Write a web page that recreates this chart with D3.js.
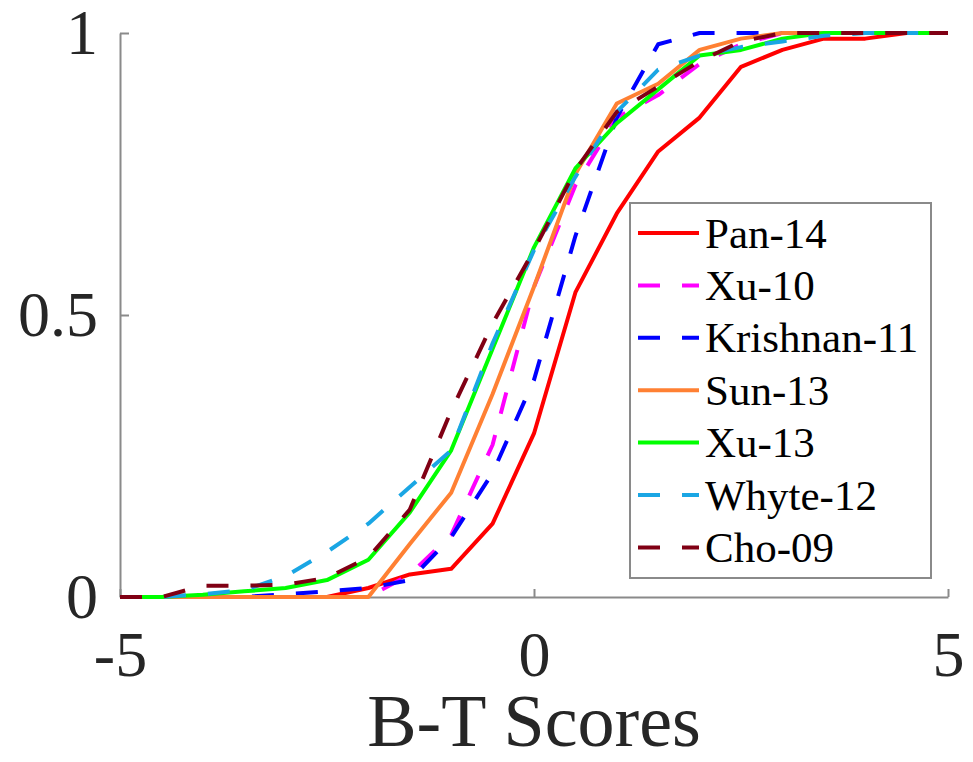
<!DOCTYPE html>
<html>
<head>
<meta charset="utf-8">
<script src="https://cdn.jsdelivr.net/npm/d3@7/dist/d3.min.js"></script>
<style>
  body { margin: 0; background: #fff; }
  svg { display: block; }
  svg text { font-family: "Liberation Serif", "Times New Roman", Times, serif; }
</style>
</head>
<body>
<script>
// B-T scores from -5 to 5, step 0.5
var scores = [-5, -4.5, -4, -3.5, -3, -2.5, -2, -1.5, -1, -0.5, 0, 0.5, 1, 1.5, 2, 2.5, 3, 3.5, 4, 4.5, 5]

var names = ['Pan-14', 'Xu-10', 'Krishnan-11', 'Sun-13', 'Xu-13', 'Whyte-12', 'Cho-09']

var pan14     = [0, 0, 0, 0, 0, 0, 0.016, 0.04, 0.05, 0.13, 0.29, 0.54, 0.68, 0.79, 0.85, 0.94, 0.97, 0.99, 0.99, 1, 1]
var xu10      = [0, 0, 0, 0, 0, 0, 0, 0.04, 0.11, 0.27, 0.55, 0.73, 0.85, 0.89, 0.945, 0.98, 1, 1, 1, 1, 1]
var krishnan11 = [0, 0, 0, 0, 0.005, 0.01, 0.016, 0.03, 0.106, 0.22, 0.385, 0.64, 0.85, 0.98, 1, 1, 1, 1, 1, 1, 1]
var sun13     = [0, 0, 0, 0, 0, 0, 0, 0.094, 0.185, 0.36, 0.55, 0.75, 0.875, 0.91, 0.97, 0.99, 1, 1, 1, 1, 1]
var xu13      = [0, 0, 0.004, 0.01, 0.016, 0.03, 0.066, 0.15, 0.26, 0.44, 0.62, 0.76, 0.84, 0.9, 0.96, 0.97, 0.99, 1, 1, 1, 1]
var whyte12   = [0, 0, 0.005, 0.012, 0.037, 0.08, 0.13, 0.195, 0.26, 0.45, 0.615, 0.745, 0.86, 0.935, 0.96, 0.975, 0.985, 0.995, 1, 1, 1]
var cho09     = [0, 0, 0.02, 0.02, 0.022, 0.034, 0.07, 0.155, 0.33, 0.485, 0.615, 0.757, 0.86, 0.905, 0.95, 0.985, 1, 1, 1, 1, 1]

var xTicks = [-5, 0, 5]
var yTicks = [0, 0.5, 1]

var series = [
  { name: names[0], values: pan14,      color: '#ff0000', dashed: false },
  { name: names[1], values: xu10,       color: '#ff00ff', dashed: true },
  { name: names[2], values: krishnan11, color: '#0000ff', dashed: true },
  { name: names[3], values: sun13,      color: '#ff8033', dashed: false },
  { name: names[4], values: xu13,       color: '#00ff00', dashed: false },
  { name: names[5], values: whyte12,    color: '#1aa6e4', dashed: true },
  { name: names[6], values: cho09,      color: '#800014', dashed: true }
]

var width = 973,
    height = 762

var svg = d3.select("body")
  .append("svg")
  .attr("width", width)
  .attr("height", height)

var x = d3.scaleLinear().domain([-5, 5]).range([120, 948])
var y = d3.scaleLinear().domain([0, 1]).range([597, 33])

var serif = '"Liberation Serif", "Times New Roman", Times, serif'
var axisColor = '#8a8a8a'

// plain hyphen for negatives, like the original
function fmt(d) { return String(d) }

// axes
svg.append("g")
  .attr("transform", "translate(" + x(-5) + ",0)")
  .call(d3.axisLeft(y).tickValues(yTicks).tickSizeInner(-9).tickSizeOuter(0).tickPadding(22).tickFormat(fmt))

svg.append("g")
  .attr("transform", "translate(0," + y(0) + ")")
  .call(d3.axisBottom(x).tickValues(xTicks).tickSizeInner(-8).tickSizeOuter(0).tickPadding(34).tickFormat(fmt))

svg.selectAll(".domain, .tick line")
  .attr("stroke", axisColor)
  .attr("stroke-width", 2)

svg.selectAll(".tick text")
  .attr("fill", '#262626')
  .attr("font-family", serif)
  .style("font-family", serif)
  .style("font-size", "64px")

svg.append("text")
  .attr("x", x(0))
  .attr("y", 746)
  .attr("text-anchor", "middle")
  .attr("fill", '#262626')
  .style("font-family", serif)
  .style("font-size", "74px")
  .text("B-T Scores")

// curves
var line = d3.line()
  .x(function(d, i) { return x(scores[i]) })
  .y(function(d) { return y(d) })

svg.append("g")
  .selectAll("path")
  .data(series)
  .enter().append("path")
  .attr("d", function(d) { return line(d.values) })
  .attr("fill", "none")
  .attr("stroke", function(d) { return d.color })
  .attr("stroke-width", 4)
  .attr("stroke-linejoin", "round")
  .attr("stroke-dasharray", function(d) { return d.dashed ? "22,22" : null })

// legend
var legend = svg.append("g")

legend.append("rect")
  .attr("x", 630)
  .attr("y", 203)
  .attr("width", 301)
  .attr("height", 375)
  .attr("fill", "#fff")
  .attr("stroke", axisColor)
  .attr("stroke-width", 2)

var items = legend.selectAll("g.item")
  .data(series)
  .enter().append("g")
  .attr("class", "item")
  .attr("transform", function(d, i) { return "translate(0," + (233 + i * 52.4) + ")" })

items.append("line")
  .attr("x1", 638)
  .attr("x2", 699)
  .attr("stroke", function(d) { return d.color })
  .attr("stroke-width", 4)
  .attr("stroke-dasharray", function(d) { return d.dashed ? "22,22" : null })

items.append("text")
  .attr("x", 705)
  .attr("dy", "0.34em")
  .attr("fill", "#000")
  .style("font-family", serif)
  .style("font-size", "43px")
  .text(function(d) { return d.name })
</script>
</body>
</html>
